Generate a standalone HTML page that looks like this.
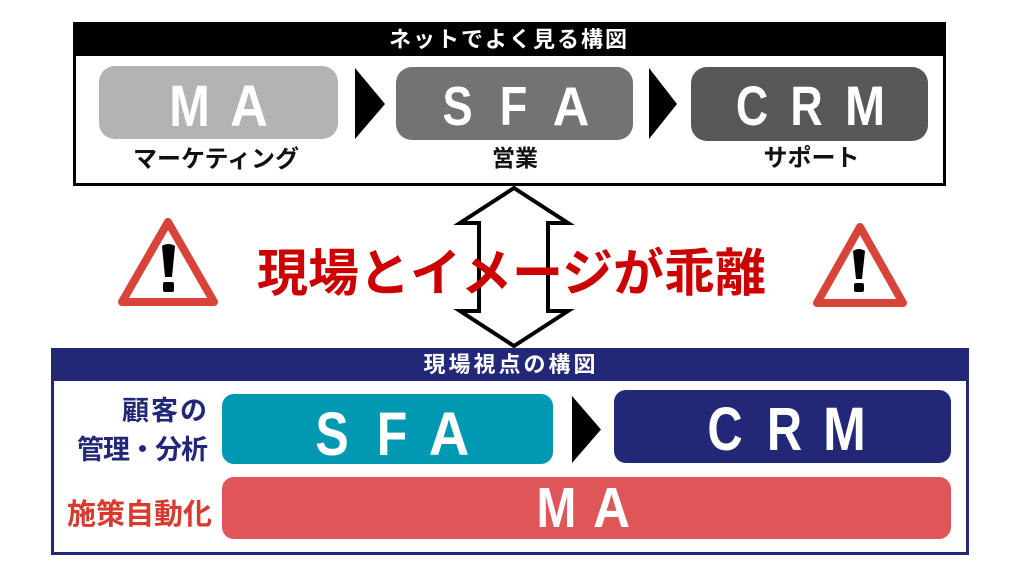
<!DOCTYPE html>
<html>
<head>
<meta charset="utf-8">
<style>
  html, body { margin:0; padding:0; background:#ffffff; }
  body { width:1024px; height:576px; overflow:hidden; }
  svg { display:block; }
  .jp { font-family: "Liberation Sans", "Noto Sans CJK JP", sans-serif; font-weight:700; }
  .lat { font-family: "Liberation Sans", sans-serif; font-weight:700; fill:#ffffff; text-anchor:middle; }
</style>
</head>
<body>
<svg width="1024" height="576" viewBox="0 0 1024 576" xmlns="http://www.w3.org/2000/svg">
  <rect x="0" y="0" width="1024" height="576" fill="#ffffff"/>

  <!-- ===== Top box ===== -->
  <rect x="74.5" y="23.5" width="870" height="161" fill="#ffffff" stroke="#000000" stroke-width="3"/>
  <rect x="73" y="22" width="873" height="34" fill="#000000"/>
  <text class="jp" x="509" y="47" font-size="22" fill="#ffffff" text-anchor="middle" letter-spacing="2">ネットでよく見る構図</text>

  <!-- MA -->
  <rect x="99" y="66" width="239" height="73" rx="16" fill="#b3b3b3"/>
  <text class="lat" font-size="58" transform="translate(189.5,126) scale(0.84,1)">M</text>
  <text class="lat" font-size="58" transform="translate(249,126) scale(0.9,1)">A</text>
  <text class="jp" x="216" y="167" font-size="24" fill="#111111" text-anchor="middle">マーケティング</text>

  <polygon points="355,68 385,104 355,139" fill="#000000"/>

  <!-- SFA -->
  <rect x="396" y="67" width="237" height="73" rx="16" fill="#737373"/>
  <text class="lat" font-size="55" transform="translate(457.5,125) scale(0.82,1)">S</text>
  <text class="lat" font-size="55" transform="translate(513.5,125) scale(0.82,1)">F</text>
  <text class="lat" font-size="55" transform="translate(571,125) scale(0.92,1)">A</text>
  <text class="jp" x="515" y="166" font-size="23" fill="#111111" text-anchor="middle">営業</text>

  <polygon points="649,68 677,104 649,139" fill="#000000"/>

  <!-- CRM -->
  <rect x="691" y="67" width="237" height="74" rx="16" fill="#585858"/>
  <text class="lat" font-size="56" transform="translate(752,125) scale(0.8,1)">C</text>
  <text class="lat" font-size="56" transform="translate(806.5,125) scale(0.8,1)">R</text>
  <text class="lat" font-size="56" transform="translate(865,125) scale(0.86,1)">M</text>
  <text class="jp" x="811.5" y="166" font-size="24" fill="#111111" text-anchor="middle">サポート</text>

  <!-- ===== Middle ===== -->
  <polygon points="514,188 568,223 548,223 548,311 568,311 514,346 460,311 479,311 479,223 460,223"
           fill="none" stroke="#000000" stroke-width="4" stroke-linejoin="miter"/>

  <!-- warning left -->
  <polygon points="168,222 122,302 214,302" fill="#ffffff" stroke="#d8433a" stroke-width="8" stroke-linejoin="round"/>
  <path d="M162,246 Q168,242 175,246 L172,277 L165,277 Z" fill="#000000"/>
  <rect x="163" y="282" width="11" height="10" rx="2" fill="#000000"/>

  <!-- warning right -->
  <polygon points="860,227 817,303 903,303" fill="#ffffff" stroke="#d8433a" stroke-width="8" stroke-linejoin="round"/>
  <path d="M853,251 Q859,247 865,251 L862,279 L856,279 Z" fill="#000000"/>
  <rect x="854" y="283" width="10" height="9" rx="2" fill="#000000"/>

  <!-- main red text -->
  <text class="jp" x="511.5" y="291" font-size="51" fill="#cc0000" text-anchor="middle">現場とイメージが乖離</text>

  <!-- ===== Bottom box ===== -->
  <rect x="52.5" y="349.5" width="915" height="204" fill="#ffffff" stroke="#222877" stroke-width="3"/>
  <rect x="51" y="348" width="918" height="33" fill="#222877"/>
  <text class="jp" x="511" y="372" font-size="22" fill="#ffffff" text-anchor="middle" letter-spacing="3">現場視点の構図</text>

  <!-- labels -->
  <text class="jp" x="209" y="420" font-size="27" fill="#222877" text-anchor="end" letter-spacing="2">顧客の</text>
  <text class="jp" x="207" y="459" font-size="27" fill="#222877" text-anchor="end" letter-spacing="-1">管理・分析</text>
  <text class="jp" x="67" y="524" font-size="29" fill="#d9392e" text-anchor="start">施策自動化</text>

  <!-- SFA teal -->
  <rect x="222" y="394" width="331" height="70" rx="12" fill="#0099b2"/>
  <text class="lat" font-size="61" transform="translate(332,455) scale(0.82,1)">S</text>
  <text class="lat" font-size="61" transform="translate(392,455) scale(0.82,1)">F</text>
  <text class="lat" font-size="61" transform="translate(449,455) scale(0.92,1)">A</text>

  <polygon points="572,396 601,429.5 572,463" fill="#000000"/>

  <!-- CRM navy -->
  <rect x="614" y="390" width="337" height="73" rx="12" fill="#222877"/>
  <text class="lat" font-size="61" transform="translate(725,450) scale(0.8,1)">C</text>
  <text class="lat" font-size="61" transform="translate(784.5,450) scale(0.8,1)">R</text>
  <text class="lat" font-size="61" transform="translate(844.5,450) scale(0.84,1)">M</text>

  <!-- MA red -->
  <rect x="222" y="477" width="729" height="62" rx="12" fill="#e05557"/>
  <text class="lat" font-size="57" transform="translate(556.5,527) scale(0.84,1)">M</text>
  <text class="lat" font-size="57" transform="translate(611.5,527) scale(0.9,1)">A</text>
</svg>
</body>
</html>
